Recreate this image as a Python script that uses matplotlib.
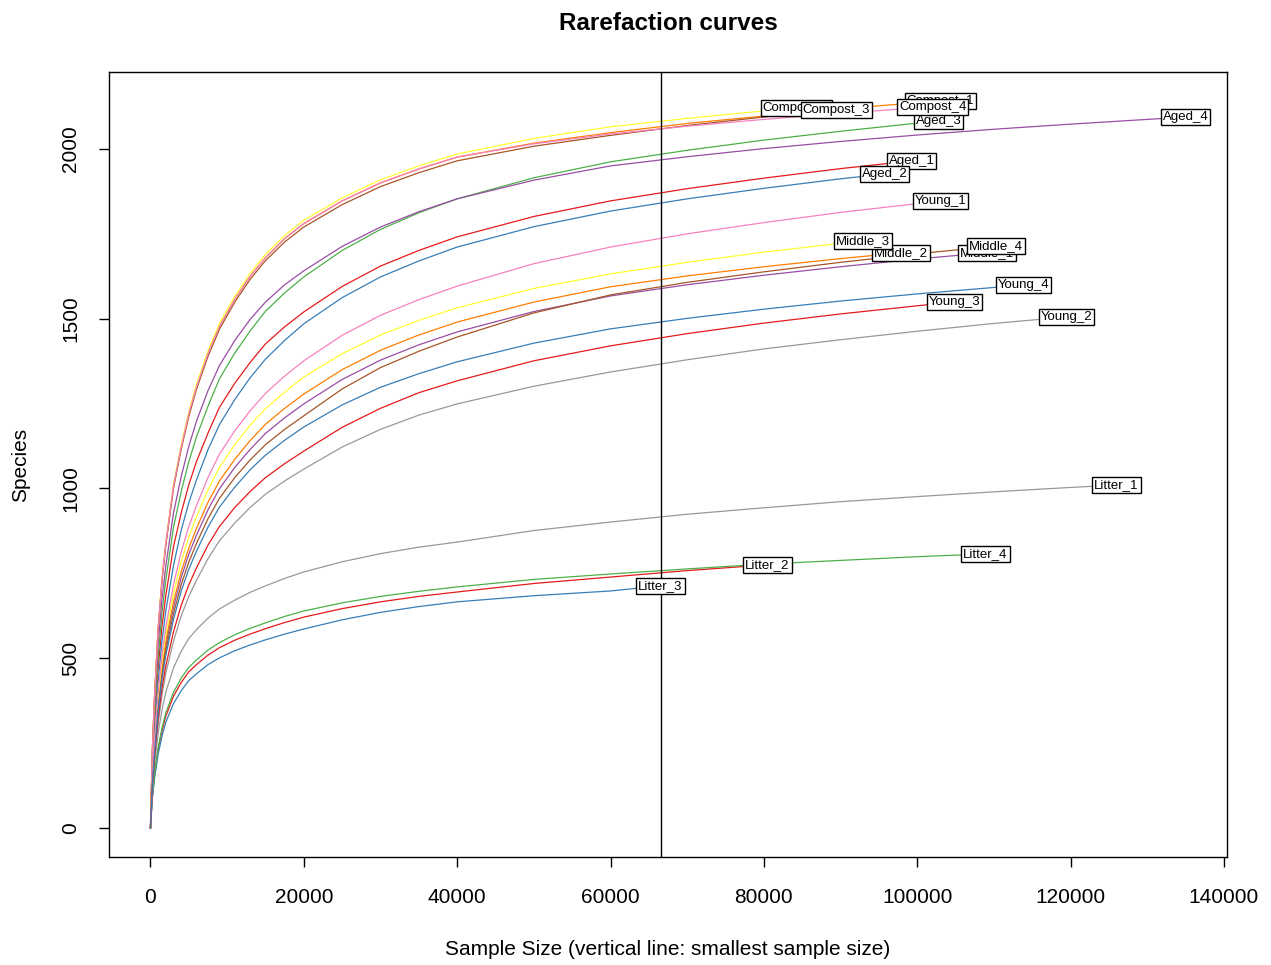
import matplotlib
matplotlib.use("Agg")
import matplotlib.pyplot as plt

plt.rcParams['font.family'] = ['Liberation Sans', 'DejaVu Sans']

depth_grid = [0, 250, 500, 1000, 1500, 2000, 3000, 4000, 5000, 6000, 7500,
              9000, 11000, 13000, 15000, 17500, 20000, 25000, 30000, 35000,
              40000, 50000, 60000, 70000, 80000, 90000, 100000, 110000,
              120000, 130000]

samples = ["Aged_1", "Aged_2", "Aged_3", "Aged_4",
           "Compost_1", "Compost_2", "Compost_3", "Compost_4",
           "Litter_1", "Litter_2", "Litter_3", "Litter_4",
           "Middle_1", "Middle_2", "Middle_3", "Middle_4",
           "Young_1", "Young_2", "Young_3", "Young_4"]

# total reads per sample (end of each curve) and observed species
sample_size = [99260, 95740, 102780, 135000,
               103040, 84260, 89470, 102000,
               126000, 80470, 66520, 108900,
               109040, 97820, 92870, 110210,
               103040, 119470, 104860, 113860]
observed = [1965, 1926, 2082, 2094,
            2141, 2121, 2115, 2124,
            1010, 775, 713, 807,
            1694, 1694, 1729, 1714,
            1847, 1505, 1549, 1599]

# rarefied richness along depth_grid (each list stops before the sample's size)
aged_1 = [0, 182, 296, 471, 593, 684, 828, 927, 1011, 1079, 1163, 1239, 1310, 1371, 1426, 1476, 1520,
          1595, 1655, 1701, 1741, 1801, 1847, 1883, 1914, 1942]
aged_2 = [0, 163, 267, 431, 549, 639, 772, 876, 958, 1025, 1114, 1188, 1262, 1326, 1381, 1436, 1485,
          1562, 1623, 1670, 1711, 1771, 1817, 1853, 1884, 1912]
aged_3 = [0, 195, 316, 503, 633, 730, 885, 990, 1079, 1152, 1242, 1323, 1399, 1464, 1522, 1576, 1623,
          1701, 1763, 1812, 1853, 1915, 1962, 1996, 2026, 2052, 2076]
aged_4 = [0, 213, 345, 542, 673, 771, 927, 1034, 1124, 1198, 1288, 1362, 1436, 1498, 1549, 1600, 1641,
          1713, 1770, 1815, 1853, 1908, 1950, 1977, 2001, 2022, 2041, 2058, 2073, 2087]
compost_1 = [0, 231, 374, 587, 730, 837, 1006, 1121, 1219, 1299, 1397, 1477, 1558, 1625, 1680, 1736, 1780,
             1847, 1900, 1941, 1976, 2017, 2048, 2075, 2097, 2118, 2136]
compost_2 = [0, 233, 376, 591, 734, 841, 1011, 1128, 1226, 1307, 1405, 1486, 1566, 1634, 1690, 1745, 1790,
             1856, 1909, 1950, 1985, 2031, 2065, 2090, 2112]
compost_3 = [0, 230, 372, 584, 726, 832, 1000, 1115, 1212, 1292, 1389, 1469, 1549, 1616, 1671, 1726, 1770,
             1836, 1889, 1930, 1965, 2008, 2040, 2069, 2094]
compost_4 = [0, 231, 374, 587, 730, 837, 1006, 1121, 1219, 1299, 1397, 1477, 1558, 1625, 1680, 1736, 1780,
             1847, 1900, 1941, 1976, 2015, 2044, 2067, 2087, 2105, 2121]
litter_1 = [0, 113, 181, 279, 347, 400, 471, 520, 558, 584, 618, 645, 671, 694, 713, 735, 754,
            784, 808, 827, 842, 876, 901, 924, 943, 961, 976, 990, 1003]
litter_2 = [0, 93, 149, 230, 286, 329, 388, 428, 460, 481, 509, 531, 553, 571, 587, 605, 621,
            646, 666, 682, 695, 720, 739, 758]
litter_3 = [0, 88, 141, 217, 270, 311, 366, 404, 434, 454, 481, 501, 522, 539, 554, 571, 586,
            613, 635, 652, 666, 684, 698]
litter_4 = [0, 96, 153, 236, 294, 339, 399, 441, 473, 495, 524, 546, 569, 588, 604, 623, 639,
            663, 682, 697, 710, 732, 748, 763, 777, 788, 799]
middle_1 = [0, 137, 225, 362, 462, 537, 649, 737, 806, 862, 937, 999, 1062, 1115, 1162, 1208, 1249,
            1321, 1378, 1423, 1461, 1521, 1567, 1600, 1628, 1653, 1676]
middle_2 = [0, 141, 230, 371, 473, 550, 665, 754, 824, 882, 959, 1022, 1086, 1141, 1189, 1236, 1278,
            1350, 1407, 1452, 1490, 1549, 1594, 1626, 1653, 1677]
middle_3 = [0, 146, 239, 385, 491, 571, 691, 784, 857, 916, 996, 1062, 1129, 1186, 1235, 1284, 1328,
            1397, 1452, 1495, 1532, 1589, 1632, 1666, 1696, 1722]
middle_4 = [0, 134, 219, 352, 449, 522, 631, 716, 783, 838, 911, 971, 1032, 1084, 1129, 1174, 1214,
            1293, 1356, 1404, 1446, 1517, 1570, 1607, 1638, 1666, 1691]
young_1 = [0, 151, 248, 399, 509, 592, 716, 812, 888, 949, 1032, 1101, 1170, 1229, 1280, 1331, 1376,
           1451, 1510, 1556, 1596, 1662, 1711, 1750, 1783, 1813, 1839]
young_2 = [0, 116, 190, 307, 391, 455, 550, 624, 682, 729, 793, 846, 898, 944, 983, 1022, 1057,
           1122, 1174, 1216, 1249, 1301, 1343, 1379, 1411, 1438, 1463, 1486]
young_3 = [0, 122, 200, 322, 411, 477, 577, 655, 716, 766, 833, 888, 944, 991, 1032, 1073, 1110,
           1180, 1236, 1282, 1317, 1376, 1420, 1456, 1487, 1514, 1538]
young_4 = [0, 130, 213, 342, 437, 508, 614, 697, 762, 815, 886, 945, 1004, 1055, 1098, 1142, 1181,
           1246, 1298, 1338, 1373, 1428, 1470, 1501, 1528, 1552, 1573, 1592]

curves = [aged_1, aged_2, aged_3, aged_4,
          compost_1, compost_2, compost_3, compost_4,
          litter_1, litter_2, litter_3, litter_4,
          middle_1, middle_2, middle_3, middle_4,
          young_1, young_2, young_3, young_4]

# RColorBrewer Set1, recycled over the samples
set1 = ["#E41A1C", "#377EB8", "#4DAF4A", "#984EA3", "#FF7F00",
        "#FFFF33", "#A65628", "#F781BF", "#999999"]

fig = plt.figure(figsize=(12.71, 9.65), dpi=100)
ax = fig.add_axes([0.0858, 0.1119, 0.8796, 0.8135])

for i, (name, rich) in enumerate(zip(samples, curves)):
    xs = depth_grid[:len(rich)] + [sample_size[i]]
    ys = rich + [observed[i]]
    ax.plot(xs, ys, color=set1[i % len(set1)], lw=0.9, zorder=2)

# smallest library size
ax.axvline(min(sample_size), color="black", lw=1, zorder=3)

# boxed labels at the end of each curve, later ones drawn on top
for i, name in enumerate(samples):
    ax.text(sample_size[i], observed[i], name, ha="center", va="center",
            fontsize=9.5, zorder=10 + i,
            bbox=dict(boxstyle="square,pad=0.15", fc="white", ec="black", lw=1))

xmax = max(sample_size)
ymax = max(observed)
ax.set_xlim(-0.04 * xmax, 1.04 * xmax)
ax.set_ylim(-0.04 * ymax, 1.04 * ymax)
ax.set_xticks(range(0, 140001, 20000))
ax.set_yticks(range(0, 2001, 500))
ax.tick_params(direction="out", length=7, width=1, labelsize=15)
ax.tick_params(axis="x", pad=15)
ax.tick_params(axis="y", pad=14)
plt.setp(ax.get_yticklabels(), rotation=90, va="center")
for sp in ax.spines.values():
    sp.set_linewidth(1)

ax.set_title("Rarefaction curves", fontsize=17.5, fontweight="bold", pad=30)
ax.set_xlabel("Sample Size (vertical line: smallest sample size)", fontsize=15, labelpad=24)
ax.set_ylabel("Species", fontsize=15, labelpad=22)

fig.savefig("out.png", dpi=100)
